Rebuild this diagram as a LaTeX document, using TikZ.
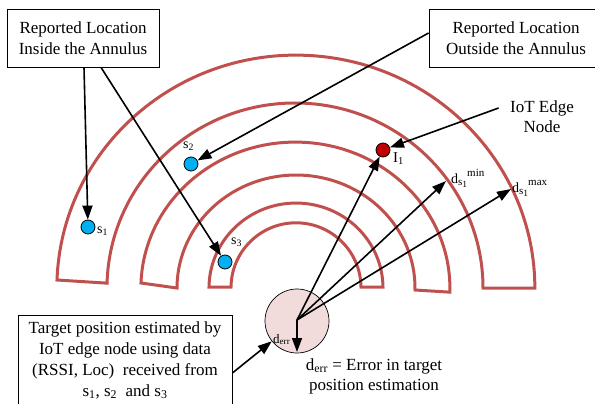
\documentclass[tikz,border=0pt]{standalone}
\usepackage{fontspec}
\setmainfont{Liberation Serif}
\usetikzlibrary{arrows.meta}
\definecolor{ringred}{RGB}{192,80,77}
\definecolor{sensorblue}{RGB}{0,176,240}
\definecolor{edgered}{RGB}{192,0,0}
\definecolor{errpink}{RGB}{242,220,219}
\newcommand{\dsone}{d\raisebox{-2.5pt}{\fontsize{11}{12}\selectfont s\raisebox{-1.5pt}{\fontsize{9.5}{10}\selectfont 1}}}
\tikzset{
  ring/.style={draw=ringred, line width=3pt, line join=miter},
  sensor/.style={circle, draw, line width=0.8pt, fill=sensorblue, minimum size=14pt, inner sep=0pt},
  edgenode/.style={sensor, fill=edgered},
  callout/.style={draw, line width=0.8pt, align=center, inner sep=0pt, font=\fontsize{17}{21}\selectfont},
  pointer/.style={-{Triangle[length=14pt,width=10pt]}, line width=1.6pt},
  lbl/.style={anchor=base west, inner sep=0pt, font=\fontsize{14}{16}\selectfont},
}
\begin{document}
\begin{tikzpicture}[x=1pt, y=-1pt]
\useasboundingbox (0,0) rectangle (595,404);
\coordinate (T) at (297,320);
\coordinate (dmin) at (446,181);
\coordinate (dmax) at (511,189);
\coordinate (errend) at (297,352);

% annuli
\draw[ring] (57,280) arc[start angle=182, end angle=360, x radius=239, y radius=233]
  -- (483,288) arc[start angle=360, end angle=181.5, x radius=188, y radius=185] -- cycle;
\draw[ring] (141,283) arc[start angle=182, end angle=361.6, x radius=154.5, y radius=146]
  -- (415,290) arc[start angle=361, end angle=180, x radius=119, y radius=113] -- cycle;
\draw[ring] (209,287) arc[start angle=180.7, end angle=359.3, x radius=87, y radius=85]
  -- (361,287) arc[start angle=359.3, end angle=180.7, x radius=65, y radius=65] -- cycle;

\node[circle, draw, fill=errpink, line width=0.7pt, minimum size=64pt, inner sep=0pt] (err) at (297,321) {};
\node[sensor] (s1) at (88,227) {};
\node[sensor] (s2) at (191,164) {};
\node[sensor] (s3) at (225,262) {};
\node[edgenode] (I1) at (383,150) {};

\node[lbl] (ls1) at (97,233) {s\textsubscript{1}};
\node[lbl] (ls2) at (183,148) {s\textsubscript{2}};
\node[lbl] (ls3) at (231,244) {s\textsubscript{3}};
\node[lbl, font=\fontsize{15}{17}\selectfont] (lI1) at (393,162) {I\textsubscript{1}};
\node[lbl, font=\fontsize{13}{15}\selectfont] (lerr) at (273,343) {d\textsubscript{err}};
\node[lbl] (lmin) at (451,183) {\dsone\raisebox{7pt}{\fontsize{11}{12}\selectfont min}};
\node[lbl] (lmax) at (512,192) {\dsone\raisebox{7pt}{\fontsize{11}{12}\selectfont max}};

\draw[pointer] (T) -- (I1);
\draw[pointer] (T) -- (dmin);
\draw[pointer] (T) -- (dmax);
\draw[pointer] (T) -- (errend);

\node[callout, minimum width=152pt, minimum height=58pt] (inbox) at (83,38) {Reported Location\\Inside the Annulus};
\node[callout, minimum width=174pt, minimum height=58pt] (outbox) at (516,38) {Reported Location\\Outside the Annulus};
\node[callout, minimum width=214pt, minimum height=90pt] (tbox) at (125,360)
  {Target position estimated by\\IoT edge node using data\\(RSSI, Loc)\ \ received from\\s\textsubscript{1}, s\textsubscript{2}\ \ and s\textsubscript{3}};
\node[align=center, font=\fontsize{17}{20}\selectfont] (iot) at (542,117) {IoT Edge\\Node};
\node[align=center, font=\fontsize{17}{20}\selectfont] (errtxt) at (374,376) {d\textsubscript{err} = Error in target\\position estimation};

\draw[pointer] ([xshift=1pt]inbox.south) -- (s1);
\draw[pointer] ([xshift=18pt]inbox.south) -- (s3);
\draw[pointer] ([yshift=5pt]outbox.west) -- (s2);
\draw[pointer] ([xshift=-8pt,yshift=9pt]iot.west) -- (I1);
\draw[pointer] ([yshift=-13pt]tbox.east) -- (err);
\end{tikzpicture}
\end{document}
